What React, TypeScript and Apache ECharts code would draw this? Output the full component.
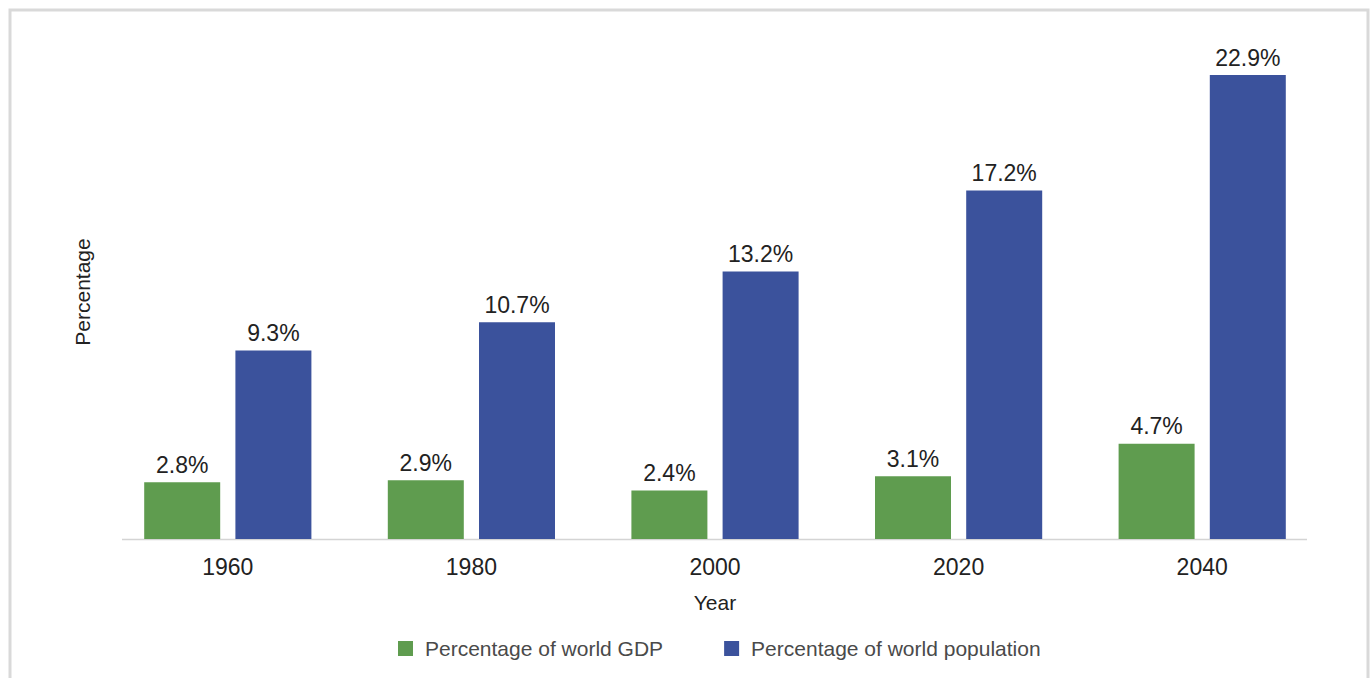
import React, { useEffect, useRef } from "react";
import * as echarts from "echarts";

const years = ["1960", "1980", "2000", "2020", "2040"];
const gdpShare = [2.8, 2.9, 2.4, 3.1, 4.7];
const popShare = [9.3, 10.7, 13.2, 17.2, 22.9];
const seriesNames = ["Percentage of world GDP", "Percentage of world population"];
const colors = ["#5f9c4f", "#3b529c"];

const FONT = "'Liberation Sans', Arial, Helvetica, sans-serif";

export default function App() {
  const ref = useRef<HTMLDivElement>(null);
  useEffect(() => {
    if (!ref.current) return;
    const chart = echarts.init(ref.current, undefined, { renderer: "svg" });
    const labelStyle = {
      show: true,
      position: "top" as const,
      distance: 6,
      fontSize: 23,
      color: "#222",
      fontFamily: FONT,
      formatter: (p: any) => p.value.toFixed(1) + "%",
    };
    chart.setOption({
      animation: false,
      textStyle: { fontFamily: FONT },
      grid: { left: 106, right: 46, top: 32.5, bottom: 139, containLabel: false },
      xAxis: {
        type: "category",
        data: years,
        axisLine: { show: false },
        axisTick: { show: false },
        axisLabel: { fontSize: 23, color: "#222", margin: 16, fontFamily: FONT },
        name: "Year",
        nameLocation: "middle",
        nameGap: 53,
        nameTextStyle: { fontSize: 21, color: "#222", fontFamily: FONT },
      },
      yAxis: {
        type: "value",
        min: 0,
        max: 25,
        show: false,
      },
      legend: {
        data: seriesNames,
        left: 393,
        top: 633,
        itemWidth: 15,
        itemHeight: 15,
        itemGap: 61,
        icon: "rect",
        textStyle: { fontSize: 21, color: "#4a4a4a", fontFamily: FONT, padding: [0, 0, 0, 7] },
      },
      graphic: [
        {
          type: "rect",
          shape: { x: 10, y: 10, width: 1358, height: 720 },
          style: { fill: "none", stroke: "#d9d9d9", lineWidth: 3 },
          silent: true,
        },
        {
          type: "line",
          shape: { x1: 122, y1: 539.5, x2: 1307, y2: 539.5 },
          style: { stroke: "#d4d4d4", lineWidth: 1.5 },
          z: -1,
          silent: true,
        },
        {
          type: "text",
          x: 82,
          y: 292,
          rotation: Math.PI / 2,
          style: {
            text: "Percentage",
            fontSize: 21,
            fill: "#222",
            fontFamily: FONT,
            align: "center",
            verticalAlign: "middle",
          },
          silent: true,
        },
      ],
      series: [
        {
          name: seriesNames[0],
          type: "bar",
          data: gdpShare,
          barWidth: 76,
          barGap: "20%",
          itemStyle: { color: colors[0] },
          label: labelStyle,
        },
        {
          name: seriesNames[1],
          type: "bar",
          data: popShare,
          barWidth: 76,
          barGap: "20%",
          itemStyle: { color: colors[1] },
          label: labelStyle,
        },
      ],
    });
    return () => chart.dispose();
  }, []);
  return (
    <div style={{ position: "absolute", left: 0, top: 0, width: 1370, height: 678, background: "#fff" }}>
      <div ref={ref} style={{ width: 1370, height: 678 }} />
    </div>
  );
}
